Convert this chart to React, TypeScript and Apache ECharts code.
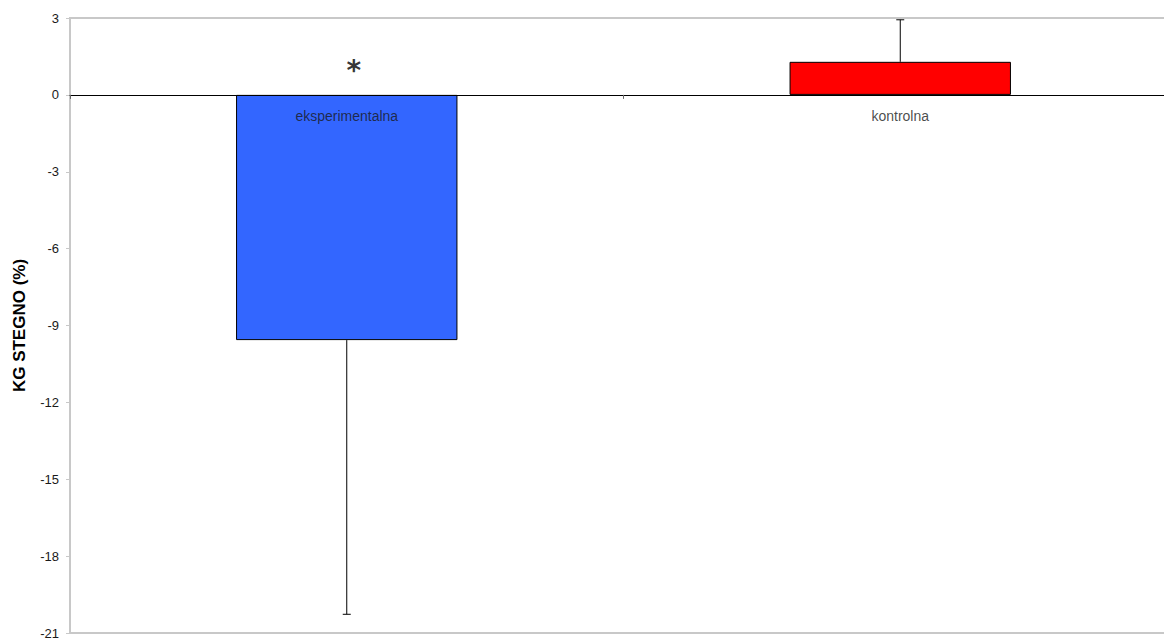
import React, { useEffect, useRef } from "react";
import * as echarts from "echarts";

const categories = ["eksperimentalna", "kontrolna"];
const means = [-9.57, 1.29];
const sds = [10.7, 1.64];
const errDirection = [-1, 1];
const yTicks = { min: -21, max: 3, interval: 3 };
const significance = ["*", ""];
const asteriskY = [1.13, null];

export default function App() {
  const ref = useRef<HTMLDivElement>(null);
  useEffect(() => {
    document.body.style.margin = "0";
    const chart = echarts.init(ref.current!, null, { renderer: "svg" });
    const errData = categories.map((c, i) => {
      const end = means[i] + errDirection[i] * sds[i];
      return [i, means[i], end];
    });
    const starData = categories
      .map((c, i) => (significance[i] ? { value: [i, asteriskY[i]], label: significance[i] } : null))
      .filter((d) => d);
    const font = "Liberation Sans, Arial";
    chart.setOption({
      animation: false,
      grid: {
        left: 70,
        top: 18,
        width: 1107,
        height: 615,
        containLabel: false,
        outerBoundsMode: "none",
        show: true,
        borderColor: "#c8c8c8",
        borderWidth: 2,
      },
      xAxis: {
        type: "category",
        data: categories,
        z: 10,
        axisLine: { onZero: true, lineStyle: { color: "#000", width: 1 } },
        axisTick: { show: true, length: 4, interval: 0, lineStyle: { color: "#666" } },
        axisLabel: { show: false },
        splitLine: { show: false },
      },
      yAxis: {
        type: "value",
        min: yTicks.min,
        max: yTicks.max,
        interval: yTicks.interval,
        name: "KG STEGNO (%)",
        nameLocation: "middle",
        nameGap: 42,
        nameTextStyle: { fontSize: 17, fontWeight: "bold", color: "#000", fontFamily: font },
        axisLine: { show: true, lineStyle: { color: "#c8c8c8", width: 2 } },
        axisTick: { show: true, length: 4, lineStyle: { color: "#c8c8c8", width: 1 } },
        axisLabel: { margin: 11, fontSize: 13, color: "#1a1a1a", fontFamily: font },
        splitLine: { show: false },
      },
      series: [
        {
          type: "bar",
          data: means.map((v, i) => ({
            value: v,
            itemStyle: { color: i === 0 ? "#3366ff" : "#ff0000" },
          })),
          barWidth: "40%",
          itemStyle: { borderColor: "#000", borderWidth: 1 },
        },
        {
          type: "custom",
          z: 5,
          data: errData,
          renderItem: (params: any, api: any) => {
            const x = api.value(0);
            const p0 = api.coord([x, api.value(1)]);
            const p1 = api.coord([x, api.value(2)]);
            const cap = 4;
            return {
              type: "group",
              children: [
                { type: "line", shape: { x1: p0[0], y1: p0[1], x2: p1[0], y2: p1[1] }, style: { stroke: "#000", lineWidth: 1 } },
                { type: "line", shape: { x1: p1[0] - cap, y1: p1[1], x2: p1[0] + cap, y2: p1[1] }, style: { stroke: "#000", lineWidth: 1 } },
              ],
            };
          },
        },
        {
          type: "scatter",
          symbolSize: 0,
          z: 12,
          data: categories.map((c, i) => ({
            value: [i, 0],
            label: {
              show: true,
              formatter: c,
              position: "inside",
              offset: [0, 21],
              fontSize: 14,
              color: "#1a1a1a",
              fontFamily: font,
            },
          })),
        },
        {
          type: "scatter",
          symbolSize: 0,
          z: 12,
          data: starData.map((d: any) => ({
            value: d.value,
            label: {
              show: true,
              formatter: d.label,
              position: "inside",
              offset: [7, 5],
              fontSize: 28,
              fontWeight: "bold",
              color: "#000",
              fontFamily: "DejaVu Sans",
            },
          })),
        },
      ],
    });
    return () => chart.dispose();
  }, []);
  return <div ref={ref} style={{ width: 1164, height: 639 }} />;
}
